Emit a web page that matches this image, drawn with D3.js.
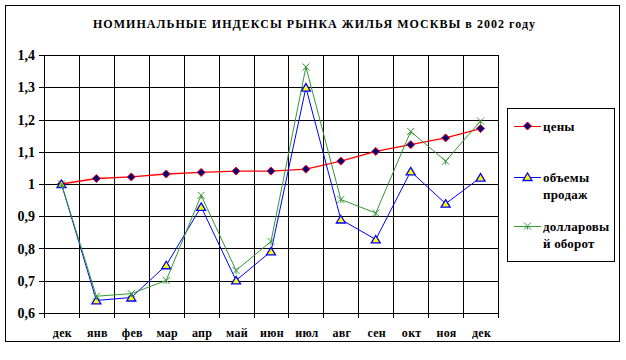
<!DOCTYPE html>
<html>
<head>
<meta charset="utf-8">
<script src="https://cdn.jsdelivr.net/npm/d3@7"></script>
<style>
  body { margin: 0; background: #fff; }
</style>
</head>
<body>
<div id="chart"></div>
<script>
const months = ['дек', 'янв', 'фев', 'мар', 'апр', 'май', 'июн', 'июл', 'авг', 'сен', 'окт', 'ноя', 'дек'];
const prices = [1.0, 1.017, 1.022, 1.031, 1.036, 1.04, 1.04, 1.046, 1.071, 1.101, 1.122, 1.143, 1.172];
const volumes = [1.0, 0.639, 0.648, 0.748, 0.929, 0.701, 0.791, 1.299, 0.890, 0.828, 1.039, 0.939, 1.020];
const dollars = [1.0, 0.652, 0.66, 0.701, 0.965, 0.732, 0.822, 1.363, 0.952, 0.91, 1.163, 1.071, 1.195];
const yTicks = [0.6, 0.7, 0.8, 0.9, 1.0, 1.1, 1.2, 1.3, 1.4];

const width = 626, height = 360;
const plotLeft = 44, plotRight = 498, plotTop = 55, plotBottom = 313;
const serif = "'Liberation Serif', 'Times New Roman', 'DejaVu Serif', serif";

const svg = d3.select('#chart').append('svg')
  .attr('width', width)
  .attr('height', height)
  .attr('font-family', serif)
  .attr('font-weight', 'bold');

// outer frame
svg.append('rect')
  .attr('x', 5.5).attr('y', 5.5)
  .attr('width', 614).attr('height', 336)
  .attr('fill', 'none').attr('stroke', '#000').attr('stroke-width', 1);

svg.append('text')
  .attr('x', 93).attr('y', 28)
  .attr('font-size', 12)
  .attr('textLength', 442)
  .attr('lengthAdjust', 'spacing')
  .text('НОМИНАЛЬНЫЕ ИНДЕКСЫ РЫНКА ЖИЛЬЯ МОСКВЫ в 2002 году');

const x = d3.scaleBand().domain(d3.range(months.length)).range([plotLeft, plotRight]);
const y = d3.scaleLinear().domain([0.6, 1.4]).range([plotBottom, plotTop]);
const cx = i => x(i) + x.bandwidth() / 2;

const g = svg.append('g');

// horizontal grid + y ticks
yTicks.forEach(t => {
  g.append('line')
    .attr('x1', plotLeft - 5).attr('x2', plotRight)
    .attr('y1', Math.round(y(t)) + 0.5).attr('y2', Math.round(y(t)) + 0.5)
    .attr('stroke', '#000').attr('stroke-width', 1);
  g.append('text')
    .attr('x', 35).attr('y', y(t) + 5)
    .attr('text-anchor', 'end')
    .attr('font-size', 14)
    .text(d3.format('.1f')(t).replace('.', ',').replace(/^1,0$/, '1'));
});

// vertical grid + x ticks at category boundaries
d3.range(months.length + 1).forEach(i => {
  const xx = Math.round(plotLeft + i * x.bandwidth()) + 0.5;
  g.append('line')
    .attr('x1', xx).attr('x2', xx)
    .attr('y1', plotTop).attr('y2', plotBottom + 5)
    .attr('stroke', '#000').attr('stroke-width', 1);
});

months.forEach((m, i) => {
  g.append('text')
    .attr('x', cx(i) + 1).attr('y', 337)
    .attr('text-anchor', 'middle')
    .attr('font-size', 12)
    .attr('letter-spacing', 0.3)
    .text(m);
});

const line = d3.line().x((d, i) => cx(i)).y(d => y(d));

function drawX(sel, px, py) {
  sel.append('path')
    .attr('d', `M${px - 3.5},${py - 3.5}L${px + 3.5},${py + 3.5}M${px - 3.5},${py + 3.5}L${px + 3.5},${py - 3.5}M${px},${py}L${px},${py + 3.5}`)
    .attr('stroke', '#339933').attr('stroke-width', 1).attr('fill', 'none');
}
function drawTri(sel, px, py) {
  sel.append('path')
    .attr('d', `M${px},${py - 4}L${px + 4.5},${py + 3.5}L${px - 4.5},${py + 3.5}Z`)
    .attr('fill', '#ffff00').attr('stroke', '#0000ff').attr('stroke-width', 1.3);
}
function drawDiamond(sel, px, py) {
  sel.append('path')
    .attr('d', `M${px},${py - 4}L${px + 4},${py}L${px},${py + 4}L${px - 4},${py}Z`)
    .attr('fill', '#000080').attr('stroke', '#ff0000').attr('stroke-width', 1);
}

const series = [
  { values: prices, color: '#ff0000', width: 1.3, mark: drawDiamond },
  { values: volumes, color: '#0000ff', width: 1, mark: drawTri },
  { values: dollars, color: '#339933', width: 1, mark: drawX }
];

series.forEach(s => {
  g.append('path').datum(s.values)
    .attr('d', line).attr('fill', 'none')
    .attr('stroke', s.color).attr('stroke-width', s.width);
  s.values.forEach((v, i) => s.mark(g, cx(i), y(v)));
});

// legend
const lg = svg.append('g');
lg.append('rect')
  .attr('x', 507.5).attr('y', 108.5)
  .attr('width', 107).attr('height', 153)
  .attr('fill', '#fff').attr('stroke', '#000').attr('stroke-width', 1);

const legendItems = [
  { lines: ['цены'], color: '#ff0000', y: 126, mark: drawDiamond },
  { lines: ['объемы', 'продаж'], color: '#0000ff', y: 177, mark: drawTri },
  { lines: ['долларовы', 'й оборот'], color: '#339933', y: 226, mark: drawX }
];
legendItems.forEach(it => {
  lg.append('line')
    .attr('x1', 514).attr('x2', 541)
    .attr('y1', it.y + 0.5).attr('y2', it.y + 0.5)
    .attr('stroke', it.color).attr('stroke-width', 1);
  it.mark(lg, 527.5, it.y);
  it.lines.forEach((t, k) => {
    lg.append('text')
      .attr('x', 543).attr('y', it.y + 5 + k * 17)
      .attr('font-size', 13)
      .attr('letter-spacing', 0.2)
      .text(t);
  });
});
</script>
</body>
</html>
